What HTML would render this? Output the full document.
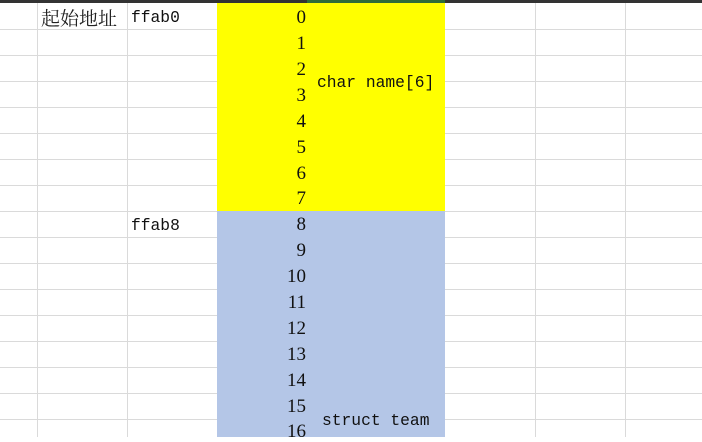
<!DOCTYPE html>
<html><head><meta charset="utf-8"><style>
body{margin:0;width:702px;height:437px;overflow:hidden;background:#fff;position:relative;font-family:"Liberation Serif","Noto Serif CJK SC",serif;}
.a{position:absolute}
.h{position:absolute;left:0;width:702px;height:1px;background:#dadada}
.v{position:absolute;top:3px;width:1px;height:434px;background:#dadada}
.n{position:absolute;width:90px;left:216px;text-align:right;font-size:19px;color:#111;line-height:20px}
.m{font-family:"Liberation Mono",monospace;font-size:16.3px;color:#111;position:absolute;line-height:20px}
</style></head><body>
<div class="a" style="left:0;top:0;width:702px;height:3px;background:#333"></div>
<div class="a" style="left:307px;top:0;width:138px;height:3px;background:#2e6b3a"></div>
<div class="h" style="top:29px"></div><div class="h" style="top:55px"></div><div class="h" style="top:81px"></div><div class="h" style="top:107px"></div><div class="h" style="top:133px"></div><div class="h" style="top:159px"></div><div class="h" style="top:185px"></div><div class="h" style="top:211px"></div><div class="h" style="top:237px"></div><div class="h" style="top:263px"></div><div class="h" style="top:289px"></div><div class="h" style="top:315px"></div><div class="h" style="top:341px"></div><div class="h" style="top:367px"></div><div class="h" style="top:393px"></div><div class="h" style="top:419px"></div>
<div class="v" style="left:37px"></div><div class="v" style="left:127px"></div><div class="v" style="left:535px"></div><div class="v" style="left:625px"></div>
<div class="a" style="left:217px;top:3px;width:228px;height:208px;background:#ffff00"></div>
<div class="a" style="left:217px;top:211px;width:228px;height:226px;background:#b4c6e7"></div>
<div class="a" style="left:41px;top:7px;font-size:19px;line-height:22px;color:#222;font-family:'Noto Serif CJK SC',serif">起始地址</div>
<div class="m" style="left:131px;top:8px">ffab0</div>
<div class="m" style="left:131px;top:216px">ffab8</div>
<div class="m" style="left:317px;top:73px">char name[6]</div>
<div class="m" style="left:322px;top:411px">struct team</div>
<div class="n" style="top:8px">0</div><div class="n" style="top:34px">1</div><div class="n" style="top:60px">2</div><div class="n" style="top:86px">3</div><div class="n" style="top:112px">4</div><div class="n" style="top:138px">5</div><div class="n" style="top:164px">6</div><div class="n" style="top:189px">7</div><div class="n" style="top:215px">8</div><div class="n" style="top:241px">9</div><div class="n" style="top:267px">10</div><div class="n" style="top:293px">11</div><div class="n" style="top:319px">12</div><div class="n" style="top:345px">13</div><div class="n" style="top:371px">14</div><div class="n" style="top:397px">15</div><div class="n" style="top:422px">16</div>
</body></html>
